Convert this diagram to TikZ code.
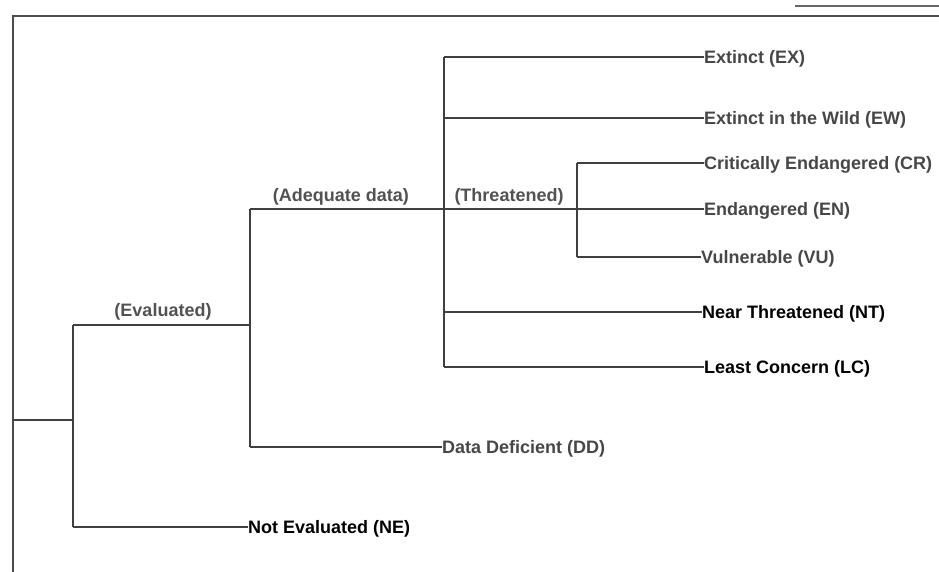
\documentclass[tikz,border=0pt]{standalone}
\usepackage{fontspec}
\setmainfont{Liberation Sans}
\begin{document}
\begin{tikzpicture}[x=1pt,y=-1pt,
  branch/.style={draw=black!75, line width=1.8pt},
  frame/.style={draw=black!70, line width=2pt},
  lbl/.style={inner sep=0pt, anchor=west, text height=13pt, text depth=0pt, font=\fontsize{18}{20}\selectfont\bfseries, text=black!72},
  lblk/.style={lbl, text=black},
  caption/.style={inner sep=0pt, text height=13pt, text depth=0pt, font=\fontsize{18}{20}\selectfont\bfseries, text=black!68}]
\useasboundingbox (0,0) rectangle (939,572);
\fill[white] (0,0) rectangle (939,572);
% frame
\coordinate (tl) at (13,16);
\coordinate (tr) at (939,16);
\coordinate (bl) at (13,572);
\coordinate (sl) at (795,6);
\coordinate (sr) at (939,6);
\draw[frame] (tr) -- (tl) -- (bl);
\draw[draw=black!60, line width=1.2pt] (sl) -- (sr);
% junctions
\coordinate (root) at (13,420);
\coordinate (j1) at (73,420);
\coordinate (j1t) at (73,325);
\coordinate (j1b) at (73,527);
\coordinate (j2) at (250,325);
\coordinate (j2t) at (250,209);
\coordinate (j2b) at (250,447);
\coordinate (j3) at (444,209);
\coordinate (j3ex) at (444,57);
\coordinate (j3ew) at (444,118);
\coordinate (j3nt) at (444,312);
\coordinate (j3lc) at (444,367);
\coordinate (j4) at (577,209);
\coordinate (j4cr) at (577,163);
\coordinate (j4vu) at (577,257);
% leaf labels
\node[lbl] (ex) at (704,57) {Extinct (EX)};
\node[lbl] (ew) at (704,118) {Extinct in the Wild (EW)};
\node[lbl] (cr) at (704,163) {Critically Endangered (CR)};
\node[lbl] (en) at (704,209) {Endangered (EN)};
\node[lbl] (vu) at (701,257) {Vulnerable (VU)};
\node[lblk] (nt) at (702,312) {Near Threatened (NT)};
\node[lblk] (lc) at (704,367) {Least Concern (LC)};
\node[lbl] (dd) at (442,447) {Data Deficient (DD)};
\node[lblk] (ne) at (248,527) {Not Evaluated (NE)};
% branch captions
\node[caption] (cev) at (163,310) {(Evaluated)};
\node[caption] (cad) at (341,195) {(Adequate data)};
\node[caption] (cth) at (509,195) {(Threatened)};
% connectors
\draw[branch] (root) -- (j1);
\draw[branch] (j1t) -- (j1b);
\draw[branch] (j1t) -- (j2);
\draw[branch] (j1b) -- (ne.west);
\draw[branch] (j2t) -- (j2b);
\draw[branch] (j2b) -- (dd.west);
\draw[branch] (j2t) -- (j3);
\draw[branch] (j3ex) -- (j3lc);
\draw[branch] (j3ex) -- (ex.west);
\draw[branch] (j3ew) -- (ew.west);
\draw[branch] (j3) -- (j4);
\draw[branch] (j4cr) -- (j4vu);
\draw[branch] (j4cr) -- (cr.west);
\draw[branch] (j4) -- (en.west);
\draw[branch] (j4vu) -- (vu.west);
\draw[branch] (j3nt) -- (nt.west);
\draw[branch] (j3lc) -- (lc.west);
\end{tikzpicture}
\end{document}
